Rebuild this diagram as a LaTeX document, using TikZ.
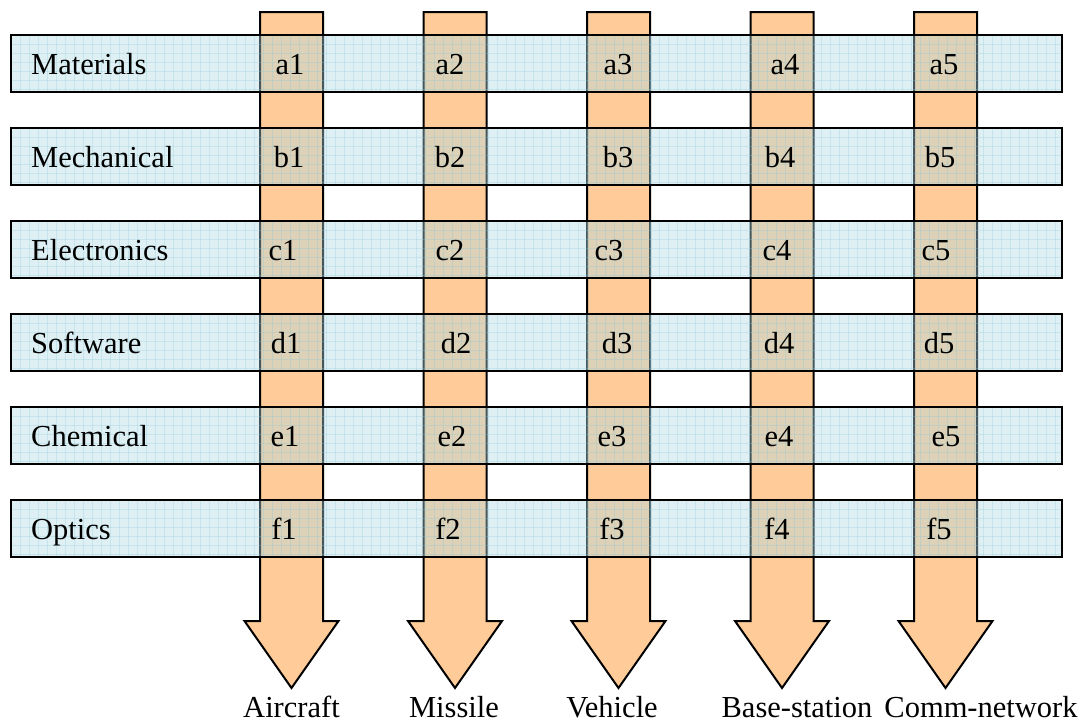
\documentclass[tikz,border=0pt]{standalone}
\usepackage{fontspec}
\setmainfont{Liberation Serif}
\definecolor{arroworange}{RGB}{255,204,153}
\definecolor{barblue}{RGB}{172,217,228}
\definecolor{gridblue}{RGB}{140,200,215}
\begin{document}
\begin{tikzpicture}[x=1pt,y=-1pt,
  bigarrow/.style={fill=arroworange, draw=black, line width=2pt, line join=miter},
  gridline/.style={draw=gridblue, draw opacity=0.3, line width=0.6pt},
  bar/.style={rectangle, inner sep=0pt, minimum width=1051pt, minimum height=57pt,
    fill=barblue, fill opacity=0.4, draw=black, line width=2pt,
    path picture={
      \foreach \k in {1,...,116}
        \draw[gridline] ([xshift=\k*9pt]path picture bounding box.north west) -- ([xshift=\k*9pt]path picture bounding box.south west);
      \foreach \k in {1,...,6}
        \draw[gridline] ([yshift=-\k*9pt]path picture bounding box.north west) -- ([yshift=-\k*9pt]path picture bounding box.north east);
    }},
  lbl/.style={font=\fontsize{30.5}{36}\selectfont, inner sep=0pt, anchor=base},
  rowlbl/.style={lbl, anchor=base west},
]
\useasboundingbox (0,0) rectangle (1083,723);

% vertical arrows
\foreach \c/\nm in {291.5/A1, 455/A2, 618.5/A3, 782/A4, 945.5/A5}{
  \draw[bigarrow] (\c-31.5,12) coordinate (top\nm) -- (\c+31.5,12) -- (\c+31.5,621) -- (\c+47,621)
    -- (\c,688) coordinate (tip\nm) -- (\c-47,621) -- (\c-31.5,621) -- cycle;
}

% horizontal bars
\foreach \r/\t in {a/35, b/128, c/221, d/314, e/407, f/500}{
  \node[bar] (bar\r) at (536.5,\t+28.5) {};
}

% row labels
\node[rowlbl] (lblA) at (31,74.5) {Materials};
\node[rowlbl] (lblB) at (31,167.5) {Mechanical};
\node[rowlbl] (lblC) at (31,260.5) {Electronics};
\node[rowlbl] (lblD) at (31,353.5) {Software};
\node[rowlbl] (lblE) at (31,446.5) {Chemical};
\node[rowlbl] (lblF) at (31,539.5) {Optics};

% cell labels
\node[lbl] (a1) at (290,74.5) {a1};
\node[lbl] (a2) at (450,74.5) {a2};
\node[lbl] (a3) at (618,74.5) {a3};
\node[lbl] (a4) at (785,74.5) {a4};
\node[lbl] (a5) at (944,74.5) {a5};

\node[lbl] (b1) at (289,167.5) {b1};
\node[lbl] (b2) at (450,167.5) {b2};
\node[lbl] (b3) at (618,167.5) {b3};
\node[lbl] (b4) at (780,167.5) {b4};
\node[lbl] (b5) at (940,167.5) {b5};

\node[lbl] (c1) at (283,260.5) {c1};
\node[lbl] (c2) at (450,260.5) {c2};
\node[lbl] (c3) at (609,260.5) {c3};
\node[lbl] (c4) at (777,260.5) {c4};
\node[lbl] (c5) at (936,260.5) {c5};

\node[lbl] (d1) at (286,353.5) {d1};
\node[lbl] (d2) at (456,353.5) {d2};
\node[lbl] (d3) at (617,353.5) {d3};
\node[lbl] (d4) at (779,353.5) {d4};
\node[lbl] (d5) at (939,353.5) {d5};

\node[lbl] (e1) at (285,446.5) {e1};
\node[lbl] (e2) at (452,446.5) {e2};
\node[lbl] (e3) at (612,446.5) {e3};
\node[lbl] (e4) at (779,446.5) {e4};
\node[lbl] (e5) at (946,446.5) {e5};

\node[lbl] (f1) at (284,539.5) {f1};
\node[lbl] (f2) at (448,539.5) {f2};
\node[lbl] (f3) at (612,539.5) {f3};
\node[lbl] (f4) at (777,539.5) {f4};
\node[lbl] (f5) at (939,539.5) {f5};

% bottom labels
\node[lbl] (outA) at (291.5,717) {Aircraft};
\node[lbl] (outB) at (454,717) {Missile};
\node[lbl] (outC) at (612,717) {Vehicle};
\node[lbl] (outD) at (797,717) {Base-station};
\node[lbl] (outE) at (981,717) {Comm-network};
\end{tikzpicture}
\end{document}
